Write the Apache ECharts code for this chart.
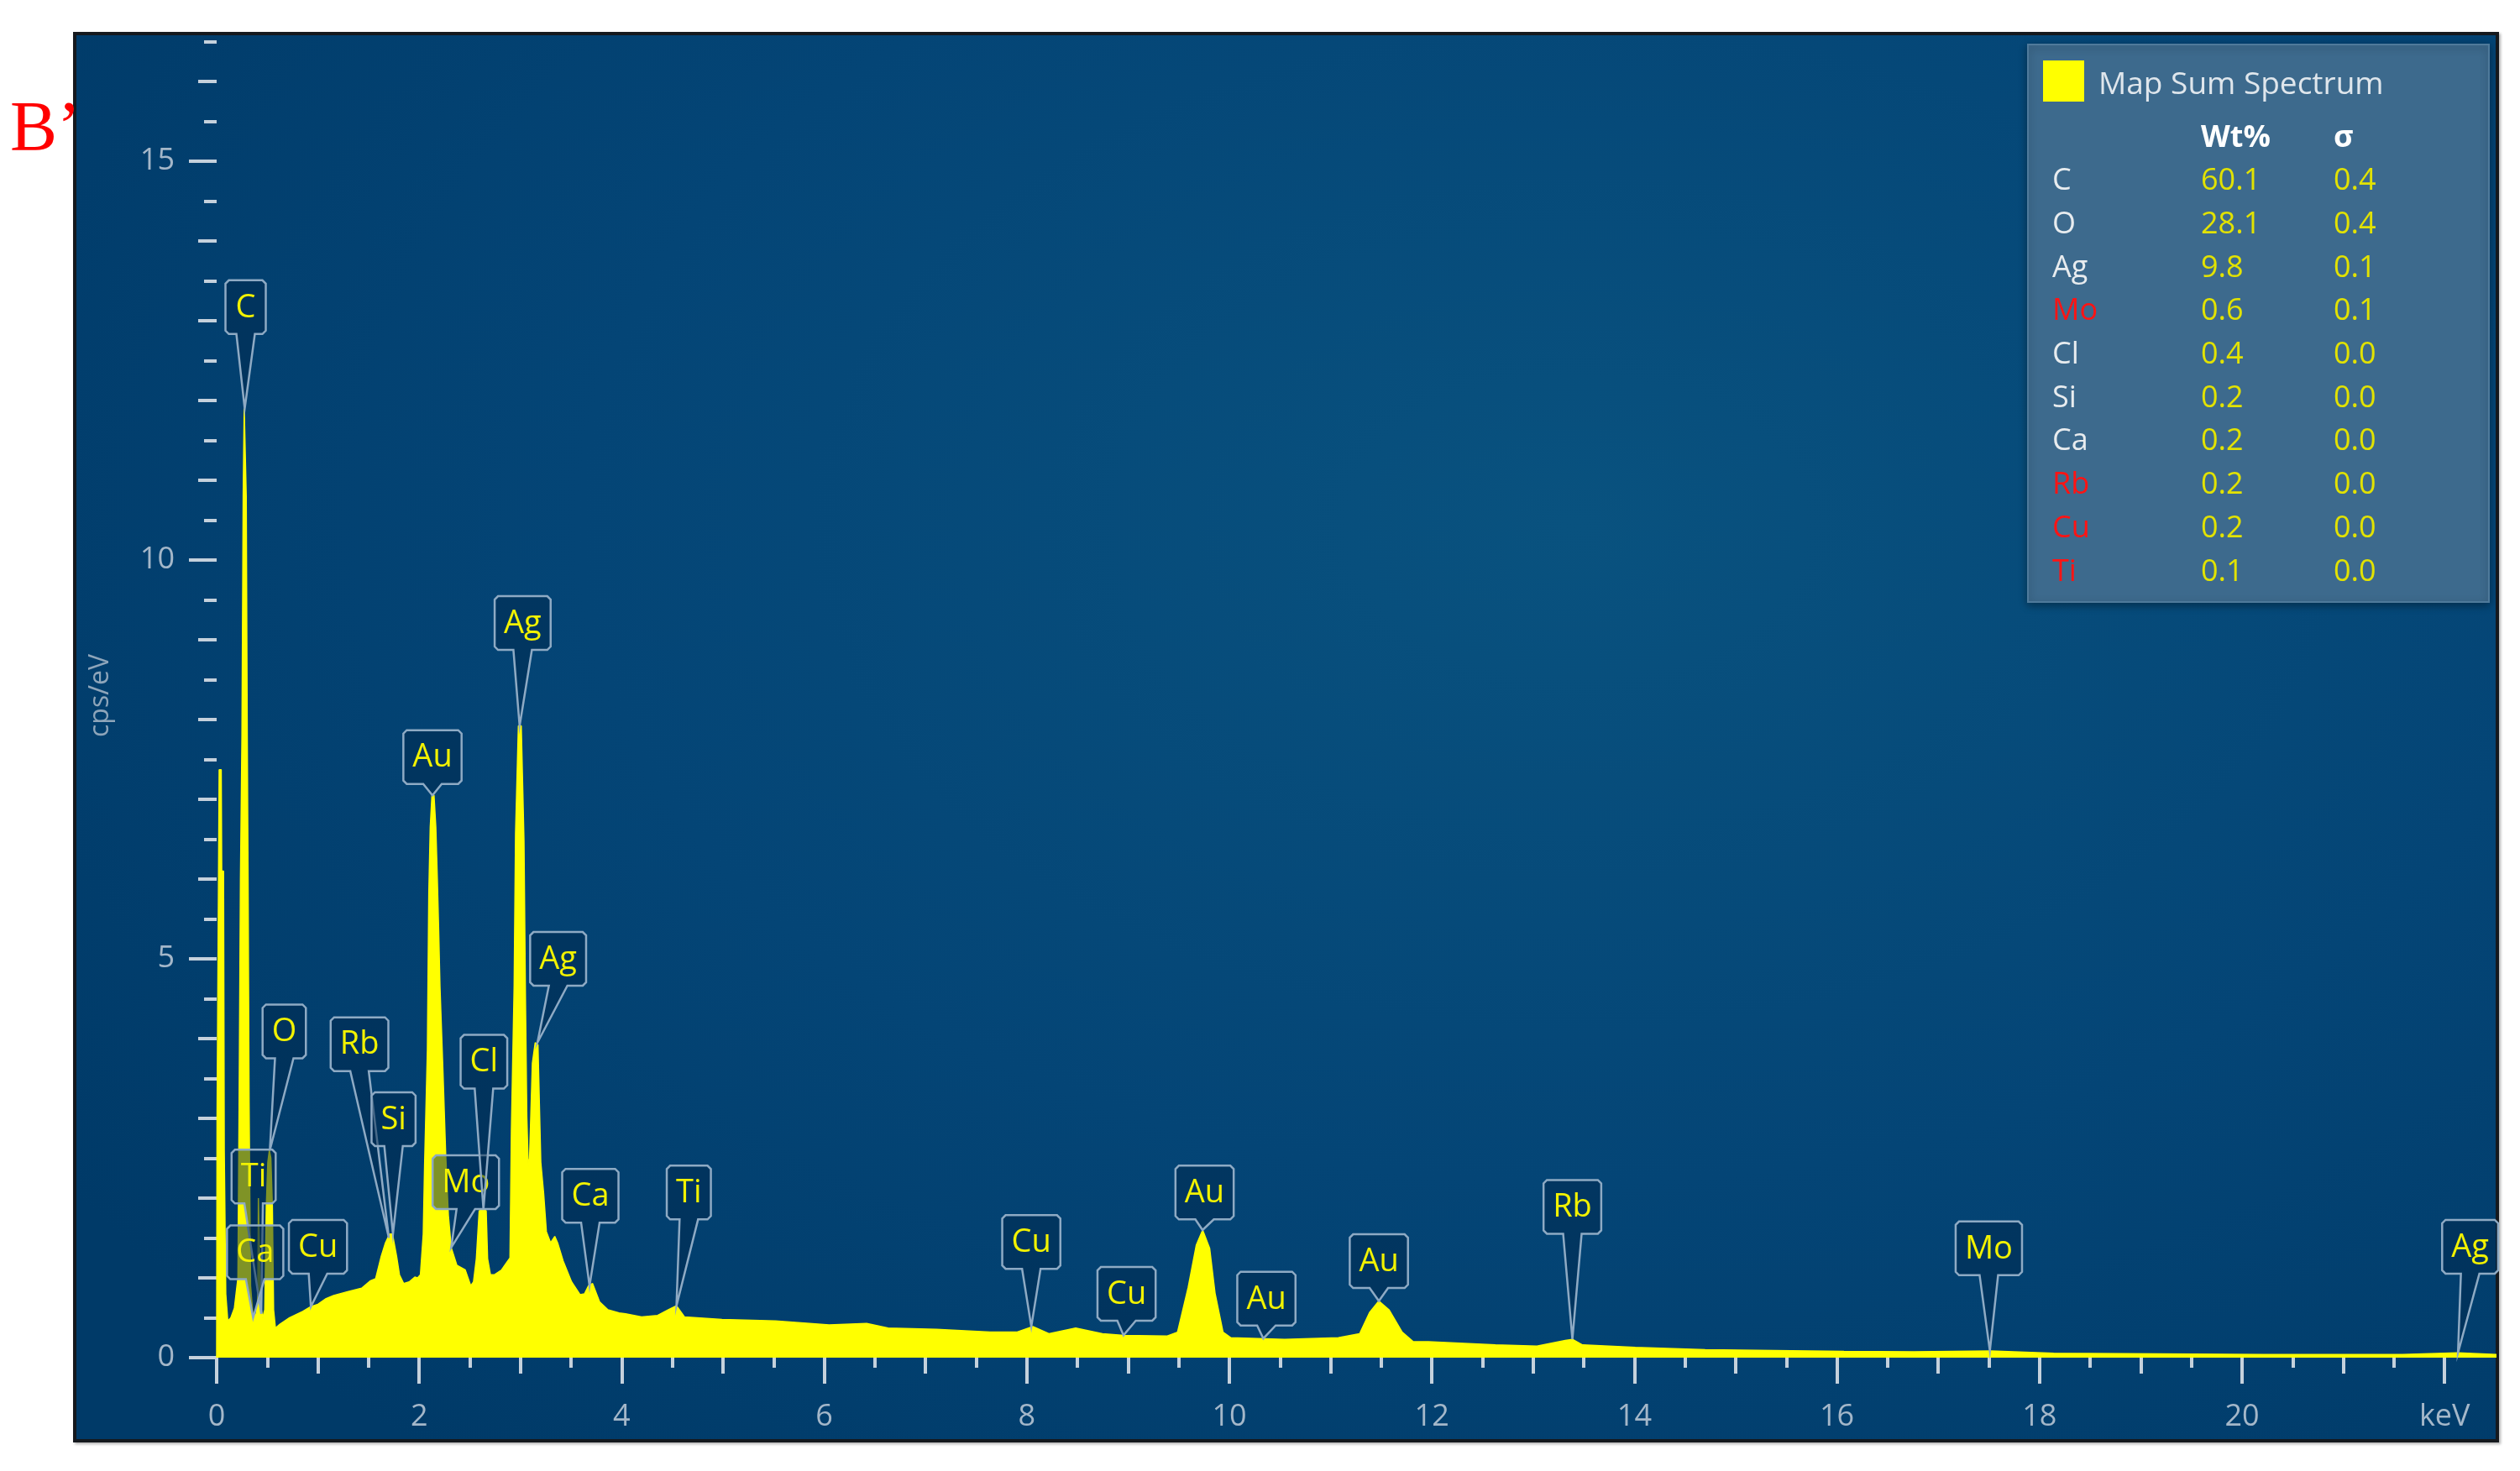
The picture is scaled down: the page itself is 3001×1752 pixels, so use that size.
<!DOCTYPE html>
<html>
<head>
<meta charset="utf-8">
<title>Map Sum Spectrum</title>
<script src="https://cdn.jsdelivr.net/npm/echarts@6/dist/echarts.min.js"></script>
<style>
  html, body { margin: 0; padding: 0; background: #fff; }
  #frame {
    position: absolute; left: 87px; top: 38px; width: 2889px; height: 1680px;
    box-sizing: border-box; border: 4px solid #15191e;
    background: radial-gradient(ellipse 75% 85% at 62% 35%, #09527f 0%, #044576 55%, #003a68 100%);
    box-shadow: 2px 2px 3px rgba(0,0,0,0.3);
  }
  #main { position: absolute; left: 0; top: 0; width: 3001px; height: 1752px; }
</style>
</head>
<body>
<div id="frame"></div>
<div id="main"></div>
<script>
// spectrum: energy in keV, intensity in cps/eV
var energy = [
  0, 0.004, 0.015, 0.025, 0.045, 0.05, 0.068, 0.075, 0.09, 0.11, 0.14, 0.175,
  0.21, 0.222, 0.235, 0.25, 0.262, 0.272, 0.282, 0.292, 0.302, 0.31, 0.32, 0.335,
  0.36, 0.39, 0.405, 0.412, 0.428, 0.435, 0.455, 0.475, 0.49, 0.505, 0.52, 0.535,
  0.55, 0.562, 0.58, 0.625, 0.72, 0.85, 0.93, 1.0, 1.08, 1.155, 1.3, 1.431,
  1.514, 1.569, 1.624, 1.666, 1.707, 1.735, 1.776, 1.804, 1.845, 1.9, 1.956, 1.983,
  2.011, 2.039, 2.052, 2.08, 2.094, 2.108, 2.125, 2.145, 2.163, 2.178, 2.19, 2.204,
  2.232, 2.26, 2.287, 2.315, 2.37, 2.453, 2.508, 2.535, 2.563, 2.591, 2.633, 2.66,
  2.674, 2.702, 2.743, 2.812, 2.867, 2.895, 2.909, 2.936, 2.95, 2.978, 3.006, 3.033,
  3.047, 3.061, 3.075, 3.088, 3.116, 3.144, 3.171, 3.185, 3.199, 3.227, 3.254, 3.296,
  3.337, 3.365, 3.42, 3.503, 3.586, 3.63, 3.669, 3.71, 3.779, 3.862, 3.972, 4.035,
  4.194, 4.352, 4.458, 4.538, 4.617, 4.987, 5.516, 6.045, 6.415, 6.627, 7.103, 7.632,
  7.896, 8.055, 8.214, 8.478, 8.742, 8.954, 9.377, 9.483, 9.588, 9.668, 9.731, 9.8,
  9.853, 9.932, 10.01, 10.54, 11.07, 11.28, 11.38, 11.47, 11.57, 11.7, 11.81, 11.96,
  12.62, 13.03, 13.31, 13.38, 13.48, 14.0, 14.69, 15.37, 16.06, 16.75, 17.51, 18.13,
  18.82, 20.2, 21.57, 22.12, 22.5
];
var counts = [
  0, 3.0, 5.25, 7.37, 7.37, 6.1, 6.1, 2.6, 0.8, 0.46, 0.5, 0.62,
  1.0, 3.2, 6.0, 7.8, 10.8, 11.9, 11.9, 10.8, 7.8, 6.0, 3.2, 0.9,
  0.5, 0.55, 0.7, 2.0, 2.0, 0.65, 0.5, 0.6, 1.9, 2.45, 2.6, 2.5,
  1.9, 0.6, 0.37, 0.42, 0.5, 0.58, 0.64, 0.67, 0.74, 0.78, 0.83, 0.87,
  0.96, 0.99, 1.27, 1.44, 1.55, 1.55, 1.27, 1.04, 0.93, 0.95, 1.01, 1.0,
  1.04, 1.55, 2.4, 3.86, 5.83, 6.65, 7.05, 7.05, 6.65, 6.0, 5.41, 4.65,
  3.64, 2.56, 1.78, 1.38, 1.16, 1.1, 0.9, 0.95, 1.24, 1.84, 1.86, 1.84,
  1.24, 1.04, 1.04, 1.1, 1.2, 1.25, 2.85, 4.65, 6.57, 7.92, 7.92, 6.48,
  4.57, 3.02, 2.4, 2.5, 3.69, 3.95, 3.92, 3.18, 2.45, 2.06, 1.58, 1.44,
  1.52, 1.44, 1.21, 0.95, 0.79, 0.8, 0.9, 0.93, 0.7, 0.6, 0.56, 0.55,
  0.51, 0.53, 0.6, 0.65, 0.51, 0.48, 0.46, 0.41, 0.43, 0.37, 0.355, 0.32,
  0.32, 0.39, 0.3, 0.37, 0.3, 0.28, 0.27, 0.32, 0.88, 1.41, 1.6, 1.37,
  0.81, 0.32, 0.25, 0.23, 0.25, 0.3, 0.57, 0.71, 0.6, 0.32, 0.2, 0.2,
  0.16, 0.145, 0.215, 0.23, 0.16, 0.13, 0.1, 0.09, 0.08, 0.075, 0.085, 0.055,
  0.05, 0.04, 0.04, 0.06, 0.04
];

// peak labels: line name, where the pointer touches the spectrum, where the box sits
var peakNames = ['C', 'O', 'Ti', 'Ca', 'Cu', 'Rb', 'Si', 'Au', 'Mo', 'Cl', 'Ag', 'Ag', 'Ca', 'Ti', 'Cu', 'Cu', 'Au', 'Au', 'Au', 'Rb', 'Mo', 'Ag'];
var tipE = [0.277, 0.525, 0.44, 0.36, 0.93, 1.70, 1.74, 2.13, 2.315, 2.633, 2.99, 3.166, 3.68, 4.538, 8.04, 8.95, 9.73, 10.33, 11.47, 13.38, 17.5, 22.12];
var tipY = [11.9, 2.6, 0.55, 0.5, 0.64, 1.5, 1.55, 7.05, 1.38, 1.86, 7.92, 3.95, 0.9, 0.65, 0.39, 0.28, 1.6, 0.24, 0.71, 0.23, 0.085, 0.06];
var boxE = [0.286, 0.667, 0.365, 0.38, 1.0, 1.41, 1.746, 2.13, 2.459, 2.638, 3.02, 3.37, 3.688, 4.66, 8.04, 8.98, 9.75, 10.36, 11.47, 13.38, 17.49, 22.24];
var boxY = [13.17, 4.09, 2.27, 1.32, 1.39, 3.93, 2.99, 7.53, 2.2, 3.71, 9.21, 5.0, 2.03, 2.07, 1.45, 0.8, 2.07, 0.74, 1.21, 1.89, 1.37, 1.39];

// quantification table
var elements = ['C', 'O', 'Ag', 'Mo', 'Cl', 'Si', 'Ca', 'Rb', 'Cu', 'Ti'];
var wtPct = ['60.1', '28.1', '9.8', '0.6', '0.4', '0.2', '0.2', '0.2', '0.2', '0.1'];
var sigma = ['0.4', '0.4', '0.1', '0.1', '0.0', '0.0', '0.0', '0.0', '0.0', '0.0'];
var flagged = ['Mo', 'Rb', 'Cu', 'Ti'];

var FONT = 'Open Sans';
var tickColor = '#c5d1dc';
var labelColor = '#a4b7c9';

var measure = document.createElement('canvas').getContext('2d');
measure.font = '38px "' + FONT + '"';
var boxW = peakNames.map(function (n) {
  return Math.max(48, measure.measureText(n).width + 22);
});

function renderPeakLabel(params, api) {
  var i = params.dataIndex;
  var b = api.coord([api.value(0), api.value(1)]);
  var t = api.coord([api.value(2), api.value(3)]);
  var w = boxW[i], h = 64, c = 4, bw = 11;
  var x0 = b[0] - w / 2, x1 = b[0] + w / 2, y0 = b[1] - h / 2, y1 = b[1] + h / 2;
  var pts = [
    [x0 + c, y0], [x1 - c, y0], [x1, y0 + c], [x1, y1 - c], [x1 - c, y1],
    [b[0] + bw, y1], [t[0], t[1]], [b[0] - bw, y1],
    [x0 + c, y1], [x0, y1 - c], [x0, y0 + c]
  ];
  return {
    type: 'group',
    children: [
      {
        type: 'polygon',
        shape: { points: pts },
        style: { fill: 'rgba(0,40,75,0.5)', stroke: '#8eaac4', lineWidth: 2.5 }
      },
      {
        type: 'text',
        style: {
          text: peakNames[i], x: b[0], y: b[1] + 1,
          align: 'center', verticalAlign: 'middle',
          textAlign: 'center', textVerticalAlign: 'middle',
          fill: '#f2f200', fontSize: 38, fontFamily: FONT
        }
      }
    ]
  };
}

// legend / table graphics
var tableGraphics = [
  {
    type: 'rect', z: 10,
    shape: { x: 2415, y: 53, width: 549, height: 664 },
    style: { fill: '#3d6a8d', stroke: '#4f7a9b', lineWidth: 2, shadowBlur: 10, shadowColor: 'rgba(0,0,0,0.35)', shadowOffsetY: 3 }
  },
  { type: 'rect', z: 11, shape: { x: 2433, y: 72, width: 49, height: 49 }, style: { fill: '#ffff00' } },
  {
    type: 'text', z: 11,
    style: { text: 'Map Sum Spectrum', x: 2499, y: 101, fill: '#dfe6ec', font: '37px "' + FONT + '"', textVerticalAlign: 'middle', verticalAlign: 'middle' }
  },
  {
    type: 'text', z: 11,
    style: { text: 'Wt%', x: 2621, y: 165, fill: '#ffffff', font: 'bold 36px "' + FONT + '"', textVerticalAlign: 'middle', verticalAlign: 'middle' }
  },
  {
    type: 'text', z: 11,
    style: { text: 'σ', x: 2779, y: 165, fill: '#ffffff', font: 'bold 36px "' + FONT + '"', textVerticalAlign: 'middle', verticalAlign: 'middle' }
  }
];
elements.forEach(function (el, i) {
  var y = 216 + i * 51.7;
  var red = flagged.indexOf(el) >= 0;
  tableGraphics.push(
    { type: 'text', z: 11, style: { text: el, x: 2444, y: y, fill: red ? '#ff1414' : '#e8ecef', font: '36px "' + FONT + '"', textVerticalAlign: 'middle', verticalAlign: 'middle' } },
    { type: 'text', z: 11, style: { text: wtPct[i], x: 2621, y: y, fill: '#e2e200', font: '36px "' + FONT + '"', textVerticalAlign: 'middle', verticalAlign: 'middle' } },
    { type: 'text', z: 11, style: { text: sigma[i], x: 2779, y: y, fill: '#e2e200', font: '36px "' + FONT + '"', textVerticalAlign: 'middle', verticalAlign: 'middle' } }
  );
});

var myChart = echarts.init(document.getElementById('main'));

// the data grid plus three tick grids (long / medium / short ticks)
var tickW = 22 * 120.6;
function tickX(idx, interval, len, labels) {
  return {
    gridIndex: idx, type: 'value', min: 0, max: 22, interval: interval, offset: 6,
    axisLine: { show: false }, splitLine: { show: false },
    axisTick: { show: true, inside: false, length: len, lineStyle: { color: tickColor, width: 4 } },
    axisLabel: labels ? {
      show: true, margin: 47, color: labelColor, fontSize: 36, fontFamily: FONT,
      formatter: function (v) { return v === 22 ? 'keV' : v; }
    } : { show: false }
  };
}
function tickY(idx, max, interval, len, labels) {
  return {
    gridIndex: idx, type: 'value', min: 0, max: max, interval: interval, offset: 4,
    axisLine: { show: false }, splitLine: { show: false },
    axisTick: { show: true, inside: false, length: len, lineStyle: { color: tickColor, width: 4 } },
    axisLabel: labels ? { show: true, margin: 46, color: labelColor, fontSize: 36, fontFamily: FONT } : { show: false }
  };
}

var option = {
  animation: false,
  backgroundColor: 'transparent',
  textStyle: { fontFamily: FONT },
  grid: [
    { left: 258, right: 28, top: 40, bottom: 135, outerBoundsMode: 'none' },
    { left: 258, width: tickW, top: 192, bottom: 135, outerBoundsMode: 'none' },
    { left: 258, width: tickW, top: 97, bottom: 135, outerBoundsMode: 'none' },
    { left: 258, width: tickW, top: 49.5, bottom: 135, outerBoundsMode: 'none' }
  ],
  xAxis: [
    { gridIndex: 0, type: 'value', min: 0, max: 22.5, show: false },
    tickX(1, 2, 31, true),
    tickX(2, 1, 19, false),
    tickX(3, 0.5, 12, false)
  ],
  yAxis: [
    {
      gridIndex: 0, type: 'value', min: 0, max: 16.6,
      axisLine: { show: false }, axisTick: { show: false }, axisLabel: { show: false }, splitLine: { show: false },
      name: 'cps/eV', nameLocation: 'middle', nameGap: 122, nameRotate: 90,
      nameTextStyle: { color: '#8ea5ba', fontSize: 32, fontFamily: FONT }
    },
    tickY(1, 15, 5, 33, true),
    tickY(2, 16, 1, 22, false),
    tickY(3, 16.5, 0.5, 15, false)
  ],
  graphic: [
    {
      type: 'text', z: 12,
      style: { text: 'B’', x: 12, y: 157, fill: '#ff0000', font: '84px "Liberation Serif"', textVerticalAlign: 'middle', verticalAlign: 'middle' }
    }
  ].concat(tableGraphics),
  series: [
    {
      name: 'Map Sum Spectrum',
      type: 'line',
      xAxisIndex: 0, yAxisIndex: 0,
      data: energy.map(function (e, i) { return [e, counts[i]]; }),
      symbol: 'none',
      lineStyle: { color: '#ffff00', width: 1.5 },
      areaStyle: { color: '#ffff00', opacity: 1 },
      z: 3,
      silent: true
    },
    {
      type: 'custom',
      xAxisIndex: 0, yAxisIndex: 0,
      data: peakNames.map(function (n, i) { return [boxE[i], boxY[i], tipE[i], tipY[i]]; }),
      encode: { x: [0, 2], y: [1, 3] },
      renderItem: renderPeakLabel,
      clip: false,
      z: 5,
      silent: true
    }
  ]
};

myChart.setOption(option);
</script>
</body>
</html>
